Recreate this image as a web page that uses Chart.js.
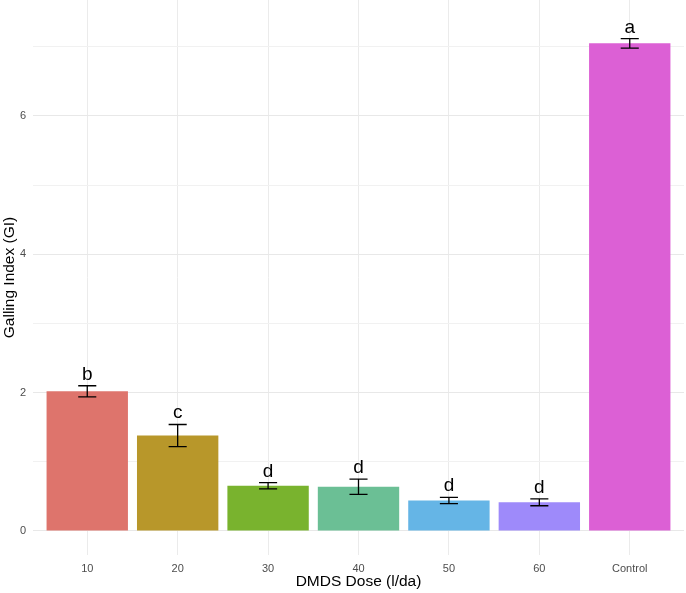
<!DOCTYPE html>
<html>
<head>
<meta charset="utf-8">
<script src="https://cdn.jsdelivr.net/npm/chart.js@4"></script>
<style>
  html, body { margin: 0; padding: 0; background: #ffffff; }
  canvas { display: block; }
</style>
</head>
<body>
<canvas id="c" width="686" height="593"></canvas>
<script>
// ---- data ----
const categories = ['10', '20', '30', '40', '50', '60', 'Control'];
const meanGI = [2.02, 1.38, 0.655, 0.64, 0.44, 0.415, 7.05];
const seGI = [0.08, 0.16, 0.045, 0.11, 0.045, 0.05, 0.07];
const groupLetters = ['b', 'c', 'd', 'd', 'd', 'd', 'a'];
const yTickValues = [0, 1, 2, 3, 4, 5, 6, 7];
const yTickLabels = ['0', '', '2', '', '4', '', '6', ''];

// ---- styles ----
const barColors = ['#DE746C', '#B8972A', '#79B32E', '#6BBF95', '#65B5E6', '#9E8AFA', '#DC60D5'];
const FONT = '"Liberation Sans", Arial, Helvetica, sans-serif';

const errorBarPlugin = {
  id: 'errorBars',
  afterDatasetsDraw(chart) {
    const {ctx, scales: {x, y}} = chart;
    const unit = x.getPixelForValue(1) - x.getPixelForValue(0);
    const capHalf = unit * 0.1;
    ctx.save();
    ctx.strokeStyle = '#000000';
    ctx.lineWidth = 1.3;
    ctx.lineCap = 'butt';
    meanGI.forEach((m, i) => {
      const cx = x.getPixelForValue(i);
      const yTop = y.getPixelForValue(m + seGI[i]);
      const yBot = y.getPixelForValue(m - seGI[i]);
      ctx.beginPath();
      ctx.moveTo(cx, yTop); ctx.lineTo(cx, yBot);
      ctx.moveTo(cx - capHalf, yTop); ctx.lineTo(cx + capHalf, yTop);
      ctx.moveTo(cx - capHalf, yBot); ctx.lineTo(cx + capHalf, yBot);
      ctx.stroke();
      ctx.fillStyle = '#000000';
      ctx.font = '19px ' + FONT;
      ctx.textAlign = 'center';
      ctx.textBaseline = 'alphabetic';
      ctx.fillText(groupLetters[i], cx, yTop - 6);
    });
    ctx.restore();
  }
};

new Chart(document.getElementById('c'), {
  type: 'bar',
  data: {
    datasets: [{
      data: meanGI.map((v, i) => ({x: i, y: v})),
      backgroundColor: barColors,
      borderWidth: 0,
      barPercentage: 0.9,
      categoryPercentage: 1.0
    }]
  },
  options: {
    responsive: false,
    animation: false,
    layout: {padding: {left: 0, right: 2, top: 0, bottom: 0}},
    plugins: {legend: {display: false}, tooltip: {enabled: false}},
    scales: {
      x: {
        type: 'linear',
        min: -0.6,
        max: 6.6,
        offset: false,
        afterBuildTicks: (axis) => { axis.ticks = categories.map((c, i) => ({value: i})); },
        afterFit: (axis) => { axis.height = 38; axis.paddingLeft = 0; axis.paddingRight = 0; },
        grid: {color: '#EBEBEB', lineWidth: 1, offset: false, drawTicks: false},
        border: {display: false},
        ticks: {
          callback: (v) => categories[Math.round(v)],
          color: '#4D4D4D',
          font: {family: FONT, size: 11},
          padding: 7,
          maxRotation: 0,
          autoSkip: false
        },
        title: {
          display: true,
          text: 'DMDS Dose (l/da)',
          color: '#000000',
          font: {family: FONT, size: 15.5},
          padding: {top: 0, bottom: 2}
        }
      },
      y: {
        min: -0.347,
        max: 7.677,
        afterBuildTicks: (axis) => { axis.ticks = yTickValues.map(v => ({value: v})); },
        afterFit: (axis) => { axis.width = 33; axis.paddingTop = 0; axis.paddingBottom = 0; },
        grid: {
          color: (ctx) => (ctx.tick && ctx.tick.value % 2 === 0) ? '#E8E8E8' : '#F1F1F1',
          lineWidth: 1,
          drawTicks: false
        },
        border: {display: false},
        ticks: {
          callback: (v, idx) => yTickLabels[idx],
          color: '#4D4D4D',
          font: {family: FONT, size: 11},
          padding: 7
        },
        title: {
          display: true,
          text: 'Galling Index (GI)',
          color: '#000000',
          font: {family: FONT, size: 15.5},
          padding: {top: 0, bottom: 0}
        }
      }
    }
  },
  plugins: [errorBarPlugin]
});
</script>
</body>
</html>
